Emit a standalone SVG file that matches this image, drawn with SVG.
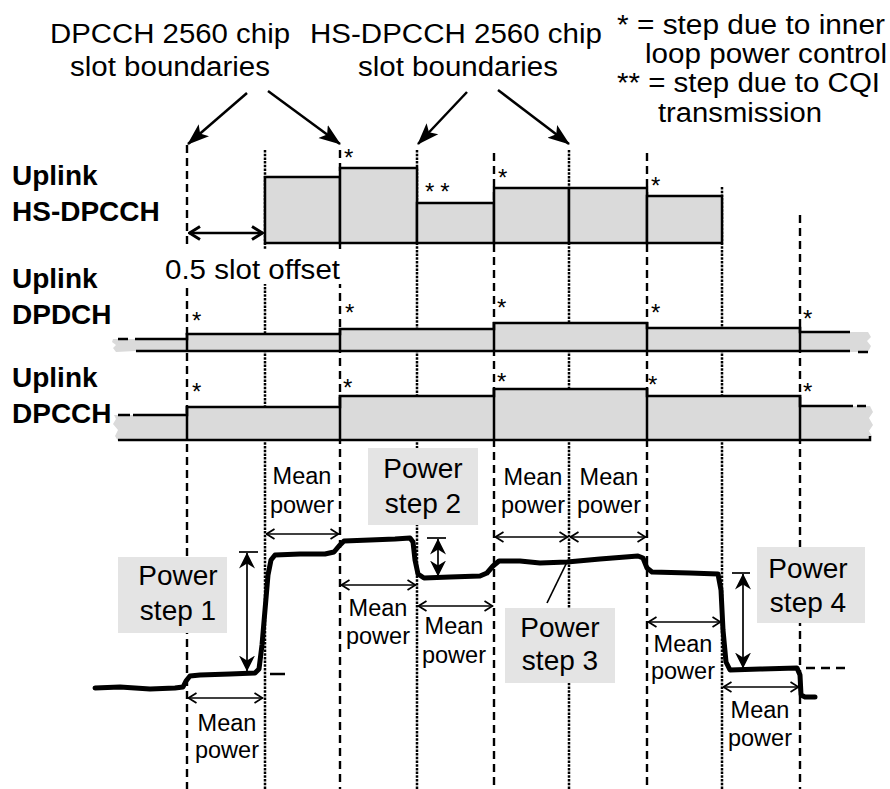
<svg xmlns="http://www.w3.org/2000/svg" width="890" height="789" viewBox="0 0 890 789">
<style>
text{font-family:"Liberation Sans",Arial,sans-serif;fill:#000}
.r{font-size:27px}
.b{font-size:28px;font-weight:bold}
.m{font-size:23.5px;text-anchor:middle}
.p{font-size:28px;text-anchor:middle}
.s{font-size:24px}
.dash{stroke:#000;stroke-width:2.4;stroke-dasharray:8 5;fill:none}
.dot{stroke:#000;stroke-width:2.5;stroke-dasharray:2.5 1.2;fill:none}
.bar{fill:#dadada;stroke:#000;stroke-width:2.5}
.fill{fill:#dadada;stroke:none}
.ln{stroke:#000;stroke-width:2.5;fill:none}
.thin{stroke:#000;stroke-width:1.7;fill:none}
.box{fill:#e4e4e4}
</style>
<defs>
<marker id="big" viewBox="0 0 22 18" refX="21" refY="9" markerWidth="22" markerHeight="18" markerUnits="userSpaceOnUse" orient="auto"><path d="M0,1 L22,9 L0,17 L5,9 Z" fill="#000"/></marker>
<marker id="mp" viewBox="0 0 10 12" refX="9.5" refY="6" markerWidth="10" markerHeight="12" markerUnits="userSpaceOnUse" orient="auto-start-reverse"><path d="M1,1 L9,6 L1,11" fill="none" stroke="#000" stroke-width="1.8"/></marker>
<marker id="off" viewBox="0 0 14 16" refX="13" refY="8" markerWidth="14" markerHeight="16" markerUnits="userSpaceOnUse" orient="auto-start-reverse"><path d="M2,1.5 L12.5,8 L2,14.5" fill="none" stroke="#000" stroke-width="3"/></marker>
<marker id="ps" viewBox="0 0 16 16" refX="15.5" refY="8" markerWidth="16" markerHeight="16" markerUnits="userSpaceOnUse" orient="auto-start-reverse"><path d="M0,0 L16,8 L0,16 L5,8 Z" fill="#000"/></marker>
</defs>

<g id="slot-lines">
<line class="dash" x1="187" y1="145" x2="187" y2="789"/>
<line class="dash" x1="340" y1="150" x2="340" y2="789"/>
<line class="dash" x1="494" y1="153" x2="494" y2="789"/>
<line class="dash" x1="647" y1="153" x2="647" y2="789"/>
<line class="dash" x1="800" y1="215" x2="800" y2="789"/>
<line class="dot" x1="265" y1="150" x2="265" y2="789"/>
<line class="dot" x1="417" y1="150" x2="417" y2="789"/>
<line class="dot" x1="569" y1="150" x2="569" y2="789"/>
<line class="dot" x1="722" y1="187" x2="722" y2="789"/>
<rect x="158" y="249" width="190" height="35" fill="#fff"/>
</g>

<g id="titles">
<text class="r" x="50" y="43" textLength="240" lengthAdjust="spacingAndGlyphs">DPCCH 2560 chip</text>
<text class="r" x="70" y="76" textLength="200" lengthAdjust="spacingAndGlyphs">slot boundaries</text>
<text class="r" x="310" y="43" textLength="292" lengthAdjust="spacingAndGlyphs">HS-DPCCH 2560 chip</text>
<text class="r" x="358" y="76" textLength="200" lengthAdjust="spacingAndGlyphs">slot boundaries</text>
</g>

<g id="legend">
<text class="r" x="617" y="34" textLength="268" lengthAdjust="spacingAndGlyphs">* = step due to inner</text>
<text class="r" x="645" y="63" textLength="242" lengthAdjust="spacingAndGlyphs">loop power control</text>
<text class="r" x="617" y="92" textLength="263" lengthAdjust="spacingAndGlyphs">** = step due to CQI</text>
<text class="r" x="658" y="122" textLength="164" lengthAdjust="spacingAndGlyphs">transmission</text>
</g>

<g id="row-hs-dpcch">
<text class="b" x="12" y="185">Uplink</text>
<text class="b" x="12" y="221">HS-DPCCH</text>
<rect class="bar" x="265" y="177" width="75" height="66"/>
<rect class="bar" x="340" y="168" width="77" height="75"/>
<rect class="bar" x="417" y="203" width="77" height="40"/>
<rect class="bar" x="494" y="188" width="75" height="55"/>
<rect class="bar" x="569" y="188" width="78" height="55"/>
<rect class="bar" x="647" y="196" width="75" height="47"/>
<text class="s" x="344" y="166">*</text>
<text class="s" x="425" y="200" letter-spacing="6">**</text>
<text class="s" x="498" y="186">*</text>
<text class="s" x="651" y="194">*</text>
</g>

<g id="offset">
<text class="r" x="165" y="279" textLength="175" lengthAdjust="spacingAndGlyphs">0.5 slot offset</text>
</g>

<g id="row-dpdch">
<text class="b" x="12" y="288">Uplink</text>
<text class="b" x="12" y="324">DPDCH</text>
<path class="fill" d="M113,339 L187,339 L187,334 L340,334 L340,329 L494,329 L494,323 L647,323 L647,328 L800,328 L800,332 L868,332 L871,337 L867,341 L871,346 L868,352 L137,352 L135,351 L116,352 L113,348 L116,345 L112,342 Z"/>
<path class="ln" d="M135,339 H187 V334 H340 V329 H494 V323 H647 V328 H800 V332 H850"/>
<line class="ln" x1="118" y1="339" x2="128" y2="339"/>
<path class="ln" d="M136,351 H850"/>
<line class="ln" x1="858" y1="352" x2="868" y2="352"/>
<line class="ln" x1="187" y1="333" x2="187" y2="352"/>
<line class="ln" x1="340" y1="328" x2="340" y2="352"/>
<line class="ln" x1="494" y1="322" x2="494" y2="352"/>
<line class="ln" x1="647" y1="322" x2="647" y2="352"/>
<line class="ln" x1="800" y1="327" x2="800" y2="352"/>
<text class="s" x="192" y="329">*</text>
<text class="s" x="345" y="321">*</text>
<text class="s" x="497" y="316">*</text>
<text class="s" x="651" y="321">*</text>
<text class="s" x="803" y="327">*</text>
</g>

<g id="row-dpcch">
<text class="b" x="12" y="387">Uplink</text>
<text class="b" x="12" y="423">DPCCH</text>
<path class="fill" d="M114,415 L187,415 L187,407 L340,407 L340,396 L494,396 L494,389 L647,389 L647,396 L800,396 L800,406 L870,406 L873,412 L869,418 L873,425 L869,431 L872,436 L869,441 L118,441 L115,436 L118,430 L113,424 L116,419 Z"/>
<path class="ln" d="M133,415 H187 V407 H340 V396 H494 V389 H647 V396 H800 V406 H853"/>
<line class="ln" x1="118" y1="415" x2="130" y2="415"/>
<line class="ln" x1="857" y1="406" x2="866" y2="406"/>
<path class="ln" d="M118,440 H870 V436"/>
<line class="ln" x1="187" y1="406" x2="187" y2="441"/>
<line class="ln" x1="340" y1="395" x2="340" y2="441"/>
<line class="ln" x1="494" y1="388" x2="494" y2="441"/>
<line class="ln" x1="647" y1="388" x2="647" y2="441"/>
<line class="ln" x1="800" y1="395" x2="800" y2="441"/>
<text class="s" x="192" y="400">*</text>
<text class="s" x="343" y="396">*</text>
<text class="s" x="497" y="390">*</text>
<text class="s" x="648" y="393">*</text>
<text class="s" x="803" y="400">*</text>
</g>

<g id="power-step-1">
<rect class="box" x="118" y="557" width="109" height="76"/>
<text class="p" x="178" y="585">Power</text>
<text class="p" x="178" y="620">step 1</text>
</g>
<g id="power-step-2">
<rect class="box" x="368" y="448" width="110" height="77"/>
<text class="p" x="423" y="478">Power</text>
<text class="p" x="423" y="513">step 2</text>
</g>
<g id="power-step-3">
<rect class="box" x="505" y="608" width="110" height="75"/>
<text class="p" x="560" y="637">Power</text>
<text class="p" x="560" y="670">step 3</text>
</g>
<g id="power-step-4">
<rect class="box" x="757" y="547" width="108" height="76"/>
<text class="p" x="808" y="578">Power</text>
<text class="p" x="808" y="612">step 4</text>
</g>

<g id="power-curve">
<path d="M95,688 L120,687 L150,689 L175,688 L183,687 L186,681 L190,676 L200,675 L230,674 L255,673 L259,669 L262,645 L265,610 L268,575 L271,560 L275,555 L300,554 L325,554 L334,552 L339,546 L344,541 L370,540 L395,539 L410,538 L413,542 L415,560 L418,574 L424,578 L450,577 L480,576 L487,573 L493,566 L499,561 L520,561 L540,563 L567,562 L600,559 L638,556 L643,558 L647,568 L652,572 L690,573 L718,574 L721,590 L723,630 L726,662 L730,670 L760,669 L797,668 L800,675 L801,695 L805,697 L815,697" fill="none" stroke="#000" stroke-width="5" stroke-linejoin="round" stroke-linecap="round"/>
</g>

<g id="mean-labels">
<text class="m" x="227" y="731">Mean</text><text class="m" x="227" y="758">power</text>
<text class="m" x="302" y="484">Mean</text><text class="m" x="302" y="513">power</text>
<text class="m" x="378" y="616">Mean</text><text class="m" x="378" y="644">power</text>
<text class="m" x="454" y="634">Mean</text><text class="m" x="454" y="663">power</text>
<text class="m" x="533" y="485">Mean</text><text class="m" x="533" y="513">power</text>
<text class="m" x="609" y="485">Mean</text><text class="m" x="609" y="513">power</text>
<text class="m" x="683" y="652">Mean</text><text class="m" x="683" y="679">power</text>
<text class="m" x="760" y="718">Mean</text><text class="m" x="760" y="746">power</text>
</g>

<g id="connectors">
<line class="ln" x1="247" y1="93" x2="188" y2="144" marker-end="url(#big)"/>
<line class="ln" x1="268" y1="91" x2="340" y2="144" marker-end="url(#big)"/>
<line class="ln" x1="467" y1="92" x2="418" y2="144" marker-end="url(#big)"/>
<line class="ln" x1="498" y1="90" x2="569" y2="144" marker-end="url(#big)"/>
<line class="ln" x1="189" y1="233" x2="263" y2="233" marker-start="url(#off)" marker-end="url(#off)"/>
<line class="thin" x1="188" y1="698" x2="263" y2="698" marker-start="url(#mp)" marker-end="url(#mp)"/>
<line class="thin" x1="266" y1="534" x2="339" y2="534" marker-start="url(#mp)" marker-end="url(#mp)"/>
<line class="thin" x1="341" y1="585" x2="416" y2="585" marker-start="url(#mp)" marker-end="url(#mp)"/>
<line class="thin" x1="418" y1="606" x2="493" y2="606" marker-start="url(#mp)" marker-end="url(#mp)"/>
<line class="thin" x1="495" y1="537" x2="568" y2="537" marker-start="url(#mp)" marker-end="url(#mp)"/>
<line class="thin" x1="570" y1="537" x2="646" y2="537" marker-start="url(#mp)" marker-end="url(#mp)"/>
<line class="thin" x1="648" y1="622" x2="721" y2="622" marker-start="url(#mp)" marker-end="url(#mp)"/>
<line class="thin" x1="723" y1="687" x2="799" y2="687" marker-start="url(#mp)" marker-end="url(#mp)"/>
<line class="thin" x1="247" y1="553" x2="247" y2="671" marker-start="url(#ps)" marker-end="url(#ps)"/>
<line class="thin" x1="239" y1="552" x2="258" y2="552" stroke-width="2"/>
<line class="ln" x1="270" y1="674" x2="285" y2="674" stroke-width="2"/>
<line class="thin" x1="438" y1="539" x2="438" y2="576" marker-start="url(#ps)" marker-end="url(#ps)"/>
<line class="thin" x1="427" y1="538" x2="446" y2="538" stroke-width="2"/>
<line class="thin" x1="743" y1="574" x2="743" y2="668" marker-start="url(#ps)" marker-end="url(#ps)"/>
<line class="thin" x1="732" y1="573" x2="750" y2="573" stroke-width="2"/>
<line class="ln" x1="806" y1="668" x2="850" y2="668" stroke-dasharray="9 6"/>
<line class="thin" x1="547" y1="603" x2="567" y2="562" stroke-width="2"/>
</g>
</svg>
